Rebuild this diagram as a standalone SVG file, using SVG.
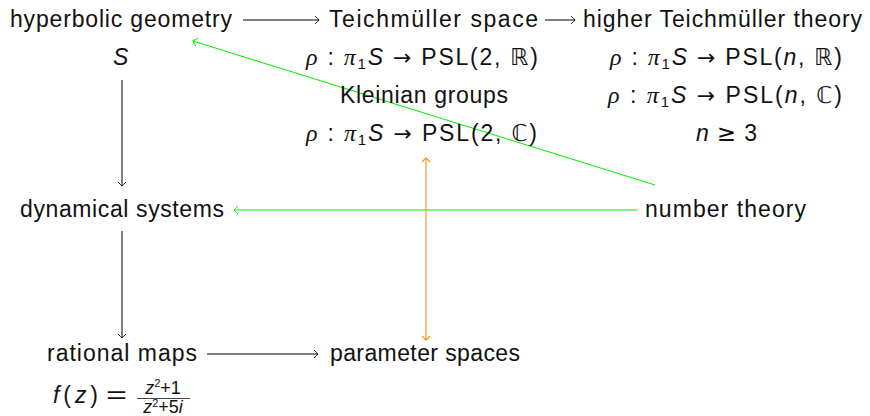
<svg xmlns="http://www.w3.org/2000/svg" width="870" height="416" viewBox="0 0 870 416">
<style>
text{font-family:"Liberation Sans","DejaVu Sans",sans-serif;font-size:23px;fill:#111;}
.mi{font-family:"Liberation Serif","DejaVu Serif",serif;font-style:italic;font-size:24px;}
.it{font-style:italic;}
.bb{font-family:"DejaVu Sans",sans-serif;}
.ar{font-family:"DejaVu Sans",sans-serif;font-size:22px;}
.sub{font-size:15px;}
.small{font-size:18px;}
.sup{font-size:11px;}
.blk{stroke:#000;stroke-width:1;fill:none;}
.grn{stroke:#00ee00;stroke-width:1;fill:none;}
.org{stroke:#ff8c1a;stroke-width:1.1;fill:none;}
</style>
<defs>
<marker id="hb" markerWidth="10" markerHeight="10" refX="0" refY="0" viewBox="-6 -5 8 10" orient="auto-start-reverse" markerUnits="userSpaceOnUse">
<path d="M-4,-4 Q-1,-1.2 0,0 Q-1,1.2 -4,4" stroke="#000" stroke-width="0.9" fill="none"/>
</marker>
<marker id="hg" markerWidth="10" markerHeight="10" refX="0" refY="0" viewBox="-6 -5 8 10" orient="auto-start-reverse" markerUnits="userSpaceOnUse">
<path d="M-4,-4 Q-1,-1.2 0,0 Q-1,1.2 -4,4" stroke="#00ee00" stroke-width="1" fill="none"/>
</marker>
<marker id="ho" markerWidth="10" markerHeight="10" refX="0" refY="0" viewBox="-6 -5 8 10" orient="auto-start-reverse" markerUnits="userSpaceOnUse">
<path d="M-4,-4 Q-1,-1.2 0,0 Q-1,1.2 -4,4" stroke="#ff8c1a" stroke-width="1.1" fill="none"/>
</marker>
</defs>

<g id="connectors">
<line class="blk" x1="243" y1="20" x2="319" y2="20" marker-end="url(#hb)"/>
<line class="blk" x1="545" y1="20" x2="575" y2="20" marker-end="url(#hb)"/>
<line class="blk" x1="122" y1="80" x2="122" y2="186" marker-end="url(#hb)"/>
<line class="blk" x1="122" y1="231" x2="122" y2="338" marker-end="url(#hb)"/>
<line class="blk" x1="207" y1="354" x2="318" y2="354" marker-end="url(#hb)"/>
<line class="grn" x1="637" y1="210" x2="234" y2="210" marker-end="url(#hg)"/>
<line class="grn" x1="655" y1="185" x2="193" y2="41" marker-end="url(#hg)"/>
<line class="org" x1="426" y1="158" x2="426" y2="340" marker-start="url(#ho)" marker-end="url(#ho)"/>
</g>

<g id="hyperbolic">
<text x="10" y="27" textLength="222" lengthAdjust="spacing">hyperbolic geometry</text>
<text x="113" y="65" class="it">S</text>
</g>

<g id="teichmuller">
<text x="329" y="27" textLength="209" lengthAdjust="spacing">Teichmüller space</text>
<text x="306" y="65" textLength="232" lengthAdjust="spacing"><tspan class="mi">ρ</tspan> : <tspan class="mi">π</tspan><tspan class="sub" dy="4">1</tspan><tspan class="it" dy="-4">S</tspan> <tspan class="ar">→</tspan> PSL(2, <tspan class="bb">ℝ</tspan>)</text>
</g>

<g id="higher">
<text x="583" y="27" textLength="279" lengthAdjust="spacing">higher Teichmüller theory</text>
<text x="610" y="65" textLength="232" lengthAdjust="spacing"><tspan class="mi">ρ</tspan> : <tspan class="mi">π</tspan><tspan class="sub" dy="4">1</tspan><tspan class="it" dy="-4">S</tspan> <tspan class="ar">→</tspan> PSL(<tspan class="it">n</tspan>, <tspan class="bb">ℝ</tspan>)</text>
<text x="608" y="103" textLength="234" lengthAdjust="spacing"><tspan class="mi">ρ</tspan> : <tspan class="mi">π</tspan><tspan class="sub" dy="4">1</tspan><tspan class="it" dy="-4">S</tspan> <tspan class="ar">→</tspan> PSL(<tspan class="it">n</tspan>, <tspan class="bb">ℂ</tspan>)</text>
<text x="696" y="141" textLength="61" lengthAdjust="spacing"><tspan class="it">n</tspan> <tspan class="bb">≥</tspan> 3</text>
</g>

<g id="kleinian">
<text x="340" y="103" textLength="168" lengthAdjust="spacing">Kleinian groups</text>
<text x="306" y="141" textLength="231" lengthAdjust="spacing"><tspan class="mi">ρ</tspan> : <tspan class="mi">π</tspan><tspan class="sub" dy="4">1</tspan><tspan class="it" dy="-4">S</tspan> <tspan class="ar">→</tspan> PSL(2, <tspan class="bb">ℂ</tspan>)</text>
</g>

<g id="dynamical">
<text x="20" y="217" textLength="204" lengthAdjust="spacing">dynamical systems</text>
</g>

<g id="number">
<text x="645" y="217" textLength="161" lengthAdjust="spacing">number theory</text>
</g>

<g id="rational">
<text x="47" y="361" textLength="150" lengthAdjust="spacing">rational maps</text>
<text x="53" y="403" font-size="25" textLength="45" lengthAdjust="spacing"><tspan class="it">f</tspan>(<tspan class="it">z</tspan>)</text>
<text x="106" y="403" font-size="25" textLength="21" lengthAdjust="spacingAndGlyphs">=</text>
<text x="163" y="394" class="small" text-anchor="middle"><tspan class="it">z</tspan><tspan class="sup" dy="-7">2</tspan><tspan dy="7">+1</tspan></text>
<line x1="137" y1="398.5" x2="190" y2="398.5" stroke="#111" stroke-width="0.8"/>
<text x="163" y="413" class="small" text-anchor="middle"><tspan class="it">z</tspan><tspan class="sup" dy="-6">2</tspan><tspan dy="6">+5</tspan><tspan class="it">i</tspan></text>
</g>

<g id="parameter">
<text x="330" y="361" textLength="190" lengthAdjust="spacing">parameter spaces</text>
</g>
</svg>
